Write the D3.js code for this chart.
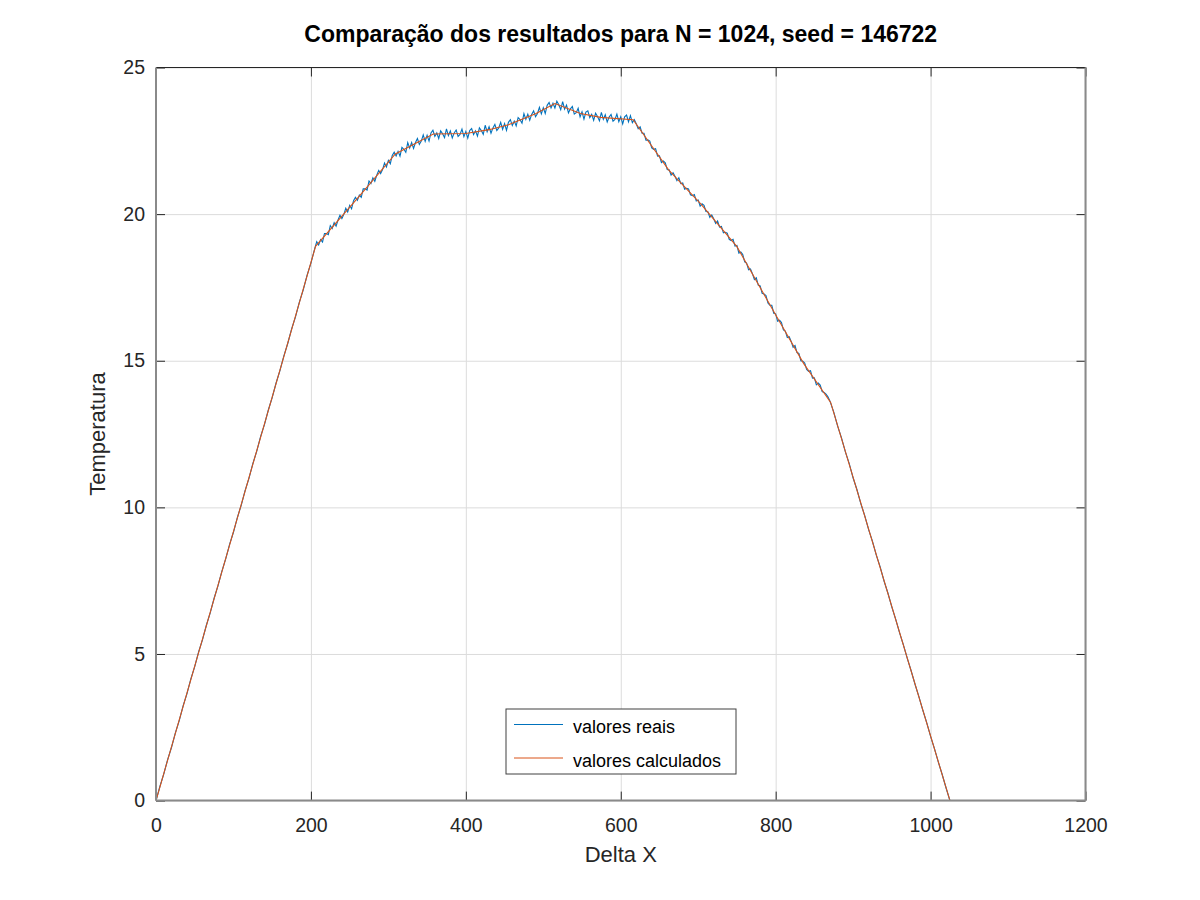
<!DOCTYPE html>
<html>
<head>
<meta charset="utf-8">
<script src="https://cdn.jsdelivr.net/npm/d3@7"></script>
<style>
body { margin: 0; background: #fff; }
text { font-family: "Liberation Sans", Arial, sans-serif; }
</style>
</head>
<body>
<div id="chart"></div>
<script>
// knots of the calculated (smooth) curve
var calcX = [0, 206, 262, 309, 358, 400, 430, 455, 490, 515, 548, 574, 616, 662, 703, 750, 799, 836, 871, 1025];
var calcY = [0, 18.9, 20.6, 22.05, 22.73, 22.75, 22.88, 23.05, 23.42, 23.77, 23.43, 23.30, 23.22, 21.50, 20.36, 18.89, 16.61, 14.91, 13.58, 0];

// measured values: rising part, x = 0 .. 205 every 5
var riseStart = 0, riseStep = 5;
var riseY = [
  0.00, 0.48, 0.90, 1.40, 1.81, 2.31, 2.73, 3.23, 3.65, 4.15,
  4.57, 5.07, 5.48, 5.98, 6.40, 6.90, 7.32, 7.82, 8.24, 8.74,
  9.15, 9.65, 10.07, 10.57, 10.99, 11.49, 11.91, 12.41, 12.82, 13.32,
  13.74, 14.24, 14.66, 15.16, 15.58, 16.08, 16.49, 16.99, 17.41, 17.91,
  18.33, 18.83
];

// measured values: noisy middle, x = 207.5 .. 870 every 2.5
var midStart = 207.5, midStep = 2.5;
var midY = [
  19.06, 18.95, 19.13, 19.05, 19.34, 19.34, 19.30, 19.61, 19.51, 19.71,
  19.59, 19.80, 19.96, 19.85, 19.99, 20.20, 20.07, 20.30, 20.18, 20.46,
  20.57, 20.47, 20.65, 20.57, 20.86, 20.86, 20.82, 21.13, 21.04, 21.24,
  21.12, 21.33, 21.49, 21.38, 21.52, 21.74, 21.61, 21.83, 21.72, 22.00,
  22.11, 21.98, 22.14, 21.98, 22.28, 22.21, 22.11, 22.44, 22.25, 22.44,
  22.24, 22.44, 22.58, 22.38, 22.49, 22.70, 22.48, 22.69, 22.49, 22.77,
  22.86, 22.65, 22.77, 22.58, 22.84, 22.74, 22.61, 22.91, 22.68, 22.84,
  22.60, 22.77, 22.87, 22.65, 22.72, 22.90, 22.64, 22.82, 22.59, 22.85,
  22.92, 22.71, 22.84, 22.66, 22.94, 22.85, 22.72, 23.03, 22.81, 22.98,
  22.76, 22.94, 23.06, 22.85, 22.94, 23.13, 22.89, 23.09, 22.86, 23.13,
  23.22, 23.02, 23.17, 23.01, 23.29, 23.22, 23.10, 23.43, 23.23, 23.41,
  23.20, 23.40, 23.52, 23.32, 23.43, 23.64, 23.42, 23.63, 23.43, 23.71,
  23.81, 23.62, 23.78, 23.62, 23.85, 23.73, 23.56, 23.84, 23.58, 23.72,
  23.45, 23.59, 23.67, 23.41, 23.46, 23.61, 23.32, 23.49, 23.24, 23.48,
  23.52, 23.29, 23.40, 23.20, 23.44, 23.33, 23.18, 23.47, 23.23, 23.39,
  23.14, 23.31, 23.40, 23.17, 23.23, 23.41, 23.15, 23.32, 23.08, 23.32,
  23.38, 23.15, 23.36, 23.12, 23.22, 23.08, 22.91, 22.98, 22.76, 22.76,
  22.52, 22.53, 22.49, 22.26, 22.21, 22.23, 21.98, 21.99, 21.76, 21.81,
  21.75, 21.52, 21.51, 21.33, 21.41, 21.29, 21.14, 21.24, 21.04, 21.06,
  20.85, 20.88, 20.86, 20.66, 20.63, 20.67, 20.45, 20.48, 20.27, 20.35,
  20.30, 20.09, 20.08, 19.89, 19.97, 19.84, 19.68, 19.77, 19.56, 19.58,
  19.36, 19.38, 19.35, 19.14, 19.10, 19.14, 18.91, 18.93, 18.67, 18.71,
  18.62, 18.37, 18.33, 18.10, 18.13, 17.97, 17.77, 17.83, 17.58, 17.55,
  17.30, 17.28, 17.22, 16.97, 16.89, 16.89, 16.62, 16.60, 16.35, 16.38,
  16.30, 16.05, 16.01, 15.79, 15.82, 15.66, 15.46, 15.52, 15.28, 15.25,
  15.00, 14.98, 14.92, 14.70, 14.64, 14.66, 14.41, 14.42, 14.18, 14.24,
  14.17, 13.95, 13.92, 13.86, 13.77, 13.63
];

// measured values: falling part, x = 875 .. 1025 every 5
var fallStart = 875, fallStep = 5;
var fallY = [
  13.25, 12.77, 12.37, 11.89, 11.49, 11.00, 10.60, 10.12, 9.72, 9.24,
  8.84, 8.36, 7.96, 7.48, 7.07, 6.60, 6.18, 5.72, 5.30, 4.84,
  4.42, 3.96, 3.54, 3.08, 2.66, 2.19, 1.77, 1.31, 0.89, 0.43,
  0.00
];

var xTicks = [0, 200, 400, 600, 800, 1000, 1200];
var yTicks = [0, 5, 10, 15, 20, 25];
var seriesNames = ["valores reais", "valores calculados"];
var seriesColors = ["#0072bd", "#d95319"];

var svgWidth = 1200;
var svgHeight = 900;
var margin = { top: 67.5, right: 114.5, bottom: 99.4, left: 156 };
var width = svgWidth - margin.left - margin.right;
var height = svgHeight - margin.top - margin.bottom;

var svg = d3.select("#chart")
  .append("svg")
  .attr("width", svgWidth)
  .attr("height", svgHeight)
  .style("background", "#fff");

var chartGroup = svg.append("g")
  .attr("transform", `translate(${margin.left},${margin.top})`);

var xScale = d3.scaleLinear().domain([0, 1200]).range([0, width]);
var yScale = d3.scaleLinear().domain([0, 25]).range([height, 0]);

// grid
chartGroup.append("g")
  .attr("transform", `translate(0,${height})`)
  .call(d3.axisBottom(xScale).tickValues(xTicks).tickSize(-height).tickFormat(""))
  .call(g => g.select(".domain").remove())
  .selectAll("line").attr("stroke", "#dcdcdc");
chartGroup.append("g")
  .call(d3.axisLeft(yScale).tickValues(yTicks).tickSize(-width).tickFormat(""))
  .call(g => g.select(".domain").remove())
  .selectAll("line").attr("stroke", "#dcdcdc");

// lines
var realData = riseY.map((v, i) => [riseStart + i * riseStep, v])
  .concat(midY.map((v, i) => [midStart + i * midStep, v]))
  .concat(fallY.map((v, i) => [fallStart + i * fallStep, v]));
var calcData = calcX.map((v, i) => [v, calcY[i]]);
var line = d3.line().x(d => xScale(d[0])).y(d => yScale(d[1]));

chartGroup.append("path")
  .datum(realData)
  .attr("fill", "none")
  .attr("stroke", seriesColors[0])
  .attr("stroke-width", 1.1)
  .attr("d", line);

chartGroup.append("path")
  .datum(calcData)
  .attr("fill", "none")
  .attr("stroke", seriesColors[1])
  .attr("stroke-width", 1.1)
  .attr("d", line);

// axes (ticks inward on all four sides)
function styleAxis(g) {
  g.select(".domain").remove();
  g.selectAll(".tick line").attr("stroke", "#262626");
  g.selectAll("text").attr("fill", "#262626").style("font-size", "19.5px");
}

chartGroup.append("g")
  .attr("transform", `translate(0,${height})`)
  .call(d3.axisBottom(xScale).tickValues(xTicks).tickSize(-9).tickPadding(18).tickFormat(d3.format("d")))
  .call(styleAxis);
chartGroup.append("g")
  .call(d3.axisLeft(yScale).tickValues(yTicks).tickSize(-9).tickPadding(11).tickFormat(d3.format("d")))
  .call(styleAxis);
chartGroup.append("g")
  .call(d3.axisTop(xScale).tickValues(xTicks).tickSize(-9).tickFormat(""))
  .call(styleAxis);
chartGroup.append("g")
  .attr("transform", `translate(${width},0)`)
  .call(d3.axisRight(yScale).tickValues(yTicks).tickSize(-9).tickFormat(""))
  .call(styleAxis);

// box
chartGroup.append("line")
  .attr("x1", 0).attr("x2", width).attr("y1", 0).attr("y2", 0)
  .attr("stroke", "#262626").attr("stroke-width", 1);
chartGroup.append("line")
  .attr("x1", 0).attr("x2", 0).attr("y1", 0).attr("y2", height)
  .attr("stroke", "#8a8a8a").attr("stroke-width", 2);
chartGroup.append("line")
  .attr("x1", width).attr("x2", width).attr("y1", 0).attr("y2", height)
  .attr("stroke", "#8a8a8a").attr("stroke-width", 2);
chartGroup.append("line")
  .attr("x1", 0).attr("x2", width).attr("y1", height).attr("y2", height)
  .attr("stroke", "#8a8a8a").attr("stroke-width", 2);

// labels
svg.append("text")
  .attr("x", margin.left + width / 2)
  .attr("y", 42)
  .attr("text-anchor", "middle")
  .attr("font-weight", "bold")
  .style("font-size", "23px")
  .attr("fill", "#000")
  .text("Comparação dos resultados para N = 1024, seed = 146722");

svg.append("text")
  .attr("x", margin.left + width / 2)
  .attr("y", 862)
  .attr("text-anchor", "middle")
  .style("font-size", "22px")
  .attr("fill", "#262626")
  .text("Delta X");

svg.append("text")
  .attr("transform", `translate(105,${margin.top + height / 2}) rotate(-90)`)
  .attr("text-anchor", "middle")
  .style("font-size", "22px")
  .attr("fill", "#262626")
  .text("Temperatura");

// legend
var legend = svg.append("g").attr("transform", "translate(506,709)");
legend.append("rect")
  .attr("width", 230).attr("height", 65)
  .attr("fill", "#fff")
  .attr("stroke", "#404040").attr("stroke-width", 1);
seriesNames.forEach(function(name, i) {
  var y = 15.5 + i * 33.5;
  legend.append("line")
    .attr("x1", 8).attr("x2", 57).attr("y1", y).attr("y2", y)
    .attr("stroke", seriesColors[i]).attr("stroke-width", 1);
  legend.append("text")
    .attr("x", 67).attr("y", y + 8.5)
    .style("font-size", "18px")
    .attr("fill", "#000")
    .text(name);
});
</script>
</body>
</html>
